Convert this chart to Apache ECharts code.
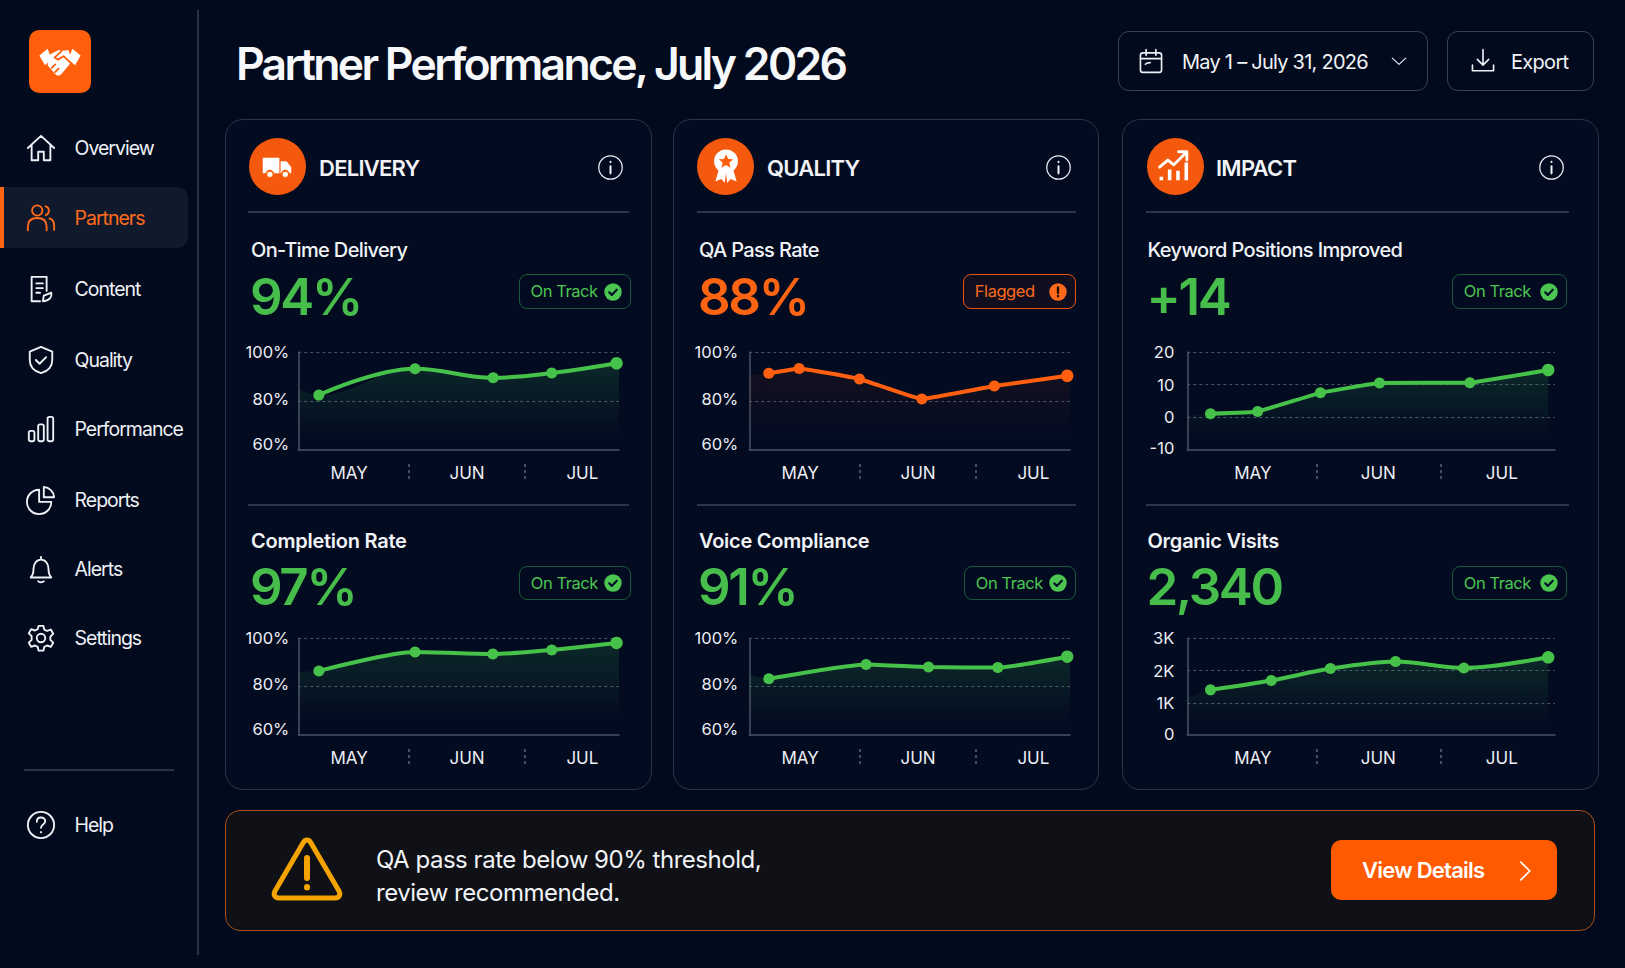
<!DOCTYPE html>
<html><head><meta charset="utf-8">
<script src="https://cdn.jsdelivr.net/npm/echarts@6/dist/echarts.min.js"></script>
<style>
*{box-sizing:border-box}
html,body{margin:0;padding:0;width:1625px;height:968px;overflow:hidden;background:#020a1e;font-family:Inter,"Noto Sans",sans-serif;color:#f1f3f7}
#chart{position:absolute;left:0;top:0;width:1625px;height:968px;z-index:2}
.a{position:absolute;white-space:nowrap}
.card{position:absolute;border:1.5px solid #2c3548;border-radius:18px;background:#030b21;top:119px;height:671px;z-index:1}
.rule{position:absolute;height:1.5px;background:#2c3548;z-index:1}
.nav{position:absolute;left:74.5px;font-size:19.5px;letter-spacing:-1px;line-height:24px;color:#eef1f5;z-index:3}
.ic{position:absolute;z-index:3;overflow:visible;fill:none;stroke:#eef1f5;stroke-width:2;stroke-linecap:round;stroke-linejoin:round}
.head{position:absolute;font-size:22px;font-weight:600;letter-spacing:-.75px;line-height:26px;top:155px;z-index:3}
.mt{position:absolute;font-size:20px;font-weight:500;letter-spacing:-.65px;line-height:24px;z-index:3}
.val{position:absolute;font-size:51px;font-weight:600;letter-spacing:-2.3px;line-height:60px;color:#47bd4c;z-index:3}
.badge{position:absolute;height:34.5px;border:1.5px solid #1b5a37;border-radius:8px;color:#4cc650;font-size:16.5px;letter-spacing:-.45px;line-height:33.5px;padding-left:10.5px;z-index:3}
.badge.f{border-color:#e8550f;color:#ff6a1a;background:rgba(255,90,0,.06)}
.badge svg{position:absolute;top:7.5px;right:8px;width:18px;height:18px}
.btn{position:absolute;top:31px;height:60px;border:1.5px solid #3a4356;border-radius:11px;z-index:3}
</style></head><body>
<div id="ui"></div>
<div id="chart"></div>
<script>
// ---------- chart data ----------
const monthLabels = ['MAY', 'JUN', 'JUL'];

const onTimeDays = [5.9, 33.5, 55.9, 72.7, 91.3];
const onTimeValues = [82.4, 93.2, 89.5, 91.4, 95.4];
const completionDays = [5.9, 33.5, 55.8, 72.7, 91.3];
const completionValues = [86.5, 94.3, 93.5, 95.2, 98.1];
const qaDays = [5.6, 14.3, 31.6, 49.5, 70.3, 91.2];
const qaValues = [91.3, 93.3, 89.0, 80.8, 86.1, 90.3];
const voiceDays = [5.6, 33.5, 51.4, 71.3, 91.2];
const voiceValues = [83.3, 89.2, 88.1, 87.9, 92.4];
const keywordDays = [5.8, 17.6, 33.3, 48.1, 70.7, 90.3];
const keywordValues = [1.1, 1.8, 7.5, 10.5, 10.6, 14.5];
const visitsDays = [5.8, 21.0, 35.8, 52.1, 69.2, 90.3];
const visitsValues = [1400, 1690, 2060, 2280, 2080, 2410];

const areaStartValues = [84.9, 86.2, 90.5, 84.6, 0.6, 1150];
const narrowLabelDays = [14.6, 48.4, 81.5];
const narrowSepDays = [31.7, 65.1];
const wideLabelDays = [16.4, 47.8, 78.7];
const wideSepDays = [32.4, 63.5];

// ---------- panels ----------
const GREEN = '#46c24a', ORANGE = '#ff5f0f';
const pct=v=>v+'%';
const panels = [
 {d:onTimeDays, v:onTimeValues, l:298.3, r:619, t:352, b:450, c:GREEN, smooth:.4, min:60, max:100, iv:20, lab:narrowLabelDays, sep:narrowSepDays, fmt:pct, end:92, m:9, pctAxis:true, lift:4},
 {d:completionDays, v:completionValues, l:298.3, r:619, t:638.3, b:735, c:GREEN, smooth:.25, min:60, max:100, iv:20, lab:narrowLabelDays, sep:narrowSepDays, fmt:pct, end:92, m:9, pctAxis:true, lift:6},
 {d:qaDays, v:qaValues, l:749.3, r:1070, t:352, b:450, c:ORANGE, smooth:.08, min:60, max:100, iv:20, lab:narrowLabelDays, sep:narrowSepDays, fmt:pct, end:92, m:11, pctAxis:true, lift:4},
 {d:voiceDays, v:voiceValues, l:749.3, r:1070, t:638.3, b:735, c:GREEN, smooth:.15, min:60, max:100, iv:20, lab:narrowLabelDays, sep:narrowSepDays, fmt:pct, end:92, m:11, pctAxis:true, lift:6},
 {d:keywordDays, v:keywordValues, l:1187.3, r:1555, t:352, b:450, c:GREEN, smooth:.08, min:-10, max:20, iv:10, lab:wideLabelDays, sep:wideSepDays, fmt:v=>''+v, end:null, m:13, lowLift:4},
 {d:visitsDays, v:visitsValues, l:1187.3, r:1555, t:638.3, b:735, c:GREEN, smooth:.3, min:0, max:3000, iv:1000, lab:wideLabelDays, sep:wideSepDays, fmt:v=>v?(v/1000)+'K':'0', end:null, m:13, lowLift:2}
];
const grid=[], xAxis=[], yAxis=[], series=[];
const labelFont={color:'#eceff4', fontFamily:'Inter', fontSize:16.5};
panels.forEach((p,i)=>{
  grid.push({left:p.l, width:p.r-p.l, top:p.t, height:p.b-p.t});
  const lab=p.lab;
  xAxis.push({type:'value', gridIndex:i, min:0, max:92, position:'bottom',
    axisLine:{show:true,onZero:false,lineStyle:{color:'#4a5366',width:1.5}}, axisTick:{show:false}, splitLine:{show:false},
    axisLabel:{customValues:lab, color:'#eceff4', fontFamily:'Inter', fontSize:17, margin:14,
      formatter:v=>monthLabels[lab.indexOf(v)]}});
  xAxis.push({type:'value', gridIndex:i, min:0, max:92, position:'bottom', offset:14,
    axisLine:{show:false,onZero:false}, splitLine:{show:false}, axisLabel:{show:false},
    axisTick:{show:true, customValues:p.sep, length:15, lineStyle:{color:'#5a6375',width:1.5,type:[3,3]}}});
  const rich=p.pctAxis
    ? {lo:{...labelFont,lineHeight:12},mid:{...labelFont,padding:[0,0,p.lift,0]}}
    : {lo:{...labelFont,padding:[0,0,p.lowLift,0]},mid:{...labelFont}};
  yAxis.push({type:'value', gridIndex:i, min:p.min, max:p.max, interval:p.iv,
    axisLine:{show:true,onZero:false,lineStyle:{color:'#4a5366',width:1.5}}, axisTick:{show:false},
    splitLine:{show:true,showMinLine:false,lineStyle:{color:'#4a5366',width:1.2,type:[3,3]}},
    axisLabel:{...labelFont, margin:p.m, rich, verticalAlignMinLabel:p.pctAxis?'bottom':'middle',
      formatter:v=>{const s=p.fmt(v); return v===p.min?`{lo|${s}}`:(p.pctAxis&&v===80?`{mid|${s}}`:s);}}});
  const pts=p.d.map((x,k)=>[x,p.v[k]]);
  const last=pts[pts.length-1];
  const area=[[0,areaStartValues[i]],...pts]; if(p.end) area.push([p.end,last[1]]);
  const rgb=p.c===GREEN?'60,190,80':'255,90,10', a=p.c===GREEN?.16:.07;
  series.push({name:'area'+i,type:'line',xAxisIndex:i*2,yAxisIndex:i,data:area,smooth:p.smooth,symbol:'none',silent:true,z:1,
    lineStyle:{width:0},areaStyle:{origin:'start',opacity:1,color:{type:'linear',x:0,y:0,x2:0,y2:1,colorStops:[{offset:0,color:`rgba(${rgb},${a})`},{offset:.85,color:`rgba(${rgb},0)`},{offset:1,color:`rgba(${rgb},0)`}]}}});
  series.push({name:'line'+i,type:'line',xAxisIndex:i*2,yAxisIndex:i,data:pts,smooth:p.smooth,symbol:'circle',symbolSize:(v,o)=>o.dataIndex===pts.length-1?12.5:11,z:3,
    lineStyle:{color:p.c,width:4},itemStyle:{color:p.c}});
});
const chart=echarts.init(document.getElementById('chart'),null,{renderer:'svg',width:1625,height:968});
chart.setOption({animation:false,backgroundColor:'transparent',grid,xAxis,yAxis,series});

// ---------- page furniture ----------
const check=c=>`<svg viewBox="0 0 18 18"><circle cx="9" cy="9" r="8.7" fill="${c}"/><path d="M5.2 9.3l2.6 2.6 5-5.2" fill="none" stroke="#04122a" stroke-width="2.2" stroke-linecap="round" stroke-linejoin="round"/></svg>`;
const alertDot=`<svg viewBox="0 0 18 18"><circle cx="9" cy="9" r="8.7" fill="#ff6a1a"/><path d="M9 4.5v5.5M9 13v.4" fill="none" stroke="#1a0d08" stroke-width="2.3" stroke-linecap="round"/></svg>`;
const ic=(cx,cy,w,body,extra='')=>`<svg class="ic" style="left:${cx-w/2}px;top:${cy-w/2}px;width:${w}px;height:${w}px;${extra}" viewBox="0 0 32 32">${body}</svg>`;
const navIcons={
 Overview:'<path d="M2 16L16 3l14 13M6 13v16h7v-9h6v9h7V13"/>',
 Partners:'<circle cx="12" cy="8" r="5.5"/><path d="M2 29v-4c0-6 4-9 10-9s10 3 10 9v4M21 3.5a5 5 0 0 1 0 9.5M25 16.5c3.500 1 5 4 5 8v4"/>',
 Content:'<path d="M22 18V3H6v26h9M11 10h7M11 15h7M11 20h4M18 29l1-6 8-3c1 4-2 9-9 9z"/>',
 Quality:'<path d="M16 2l12 5v9c0 7-5 12-12 14C9 28 4 23 4 16V7z"/><path d="M10.500 16l4 4 7-7"/>',
 Performance:'<rect x="3" y="18" width="6" height="11" rx="2"/><rect x="13" y="11" width="6" height="18" rx="2"/><rect x="23" y="3" width="6" height="26" rx="2"/>',
 Reports:'<path d="M14 5a13 13 0 1 0 13 13H14z"/><path d="M19 2a12 12 0 0 1 11 11H19z"/>',
 Alerts:'<path d="M5 25c2-2 3-4 3-9 0-5 3-10 8-10s8 5 8 10c0 5 1 7 3 9zM16 3v3M13 29c1 1.500 5 1.500 6 0"/>',
 Settings:'<circle cx="16" cy="16" r="4.500"/><path d="M13.500 3h5l1 4 3 1.500 4-1.500 2.500 4.500-3 3v3.500l3 3-2.500 4.500-4-1.500-3 1.500-1 4h-5l-1-4-3-1.500-4 1.500-2.500-4.500 3-3V14l-3-3 2.500-4.500 4 1.500 3-1.500z"/>',
 Help:'<circle cx="16" cy="16" r="14"/><path d="M11.500 12.500c0-3 2-4.500 4.500-4.500s4.500 1.700 4.500 4c0 3.500-4.500 3.500-4.500 7M16 23.500v.4"/>'
};
const navY={Overview:148,Partners:217.6,Content:289,Quality:359.6,Performance:429,Reports:499.5,Alerts:569,Settings:637.5,Help:825};
let h='';
h+=`<div class="a" style="left:197px;top:10px;width:1.5px;height:945px;background:#2a3346"></div>`;
h+=`<div class="a" style="left:0;top:187px;width:188px;height:61px;background:#101a2c;border-radius:0 11px 11px 0"></div><div class="a" style="left:0;top:187px;width:4px;height:61px;background:#ff6410"></div>`;
h+=`<div class="a" style="left:24px;top:769px;width:150px;height:1.5px;background:#2a3346"></div>`;
h+=`<div class="a" style="left:28.500px;top:30px;width:62px;height:63px;border-radius:10px;background:#ff5f0a"></div>`;
h+=ic(59.5,61,44,'<path d="M1 12l6-5 3 8-5 4zM31 12l-6-5-3 8 5 4z" fill="#fff" stroke="none"/><path d="M9 11l6-3 2 .8 5-.8 3 8-8 9.500c-1.500 1.500-3 1.500-4.500 0L7 19z" fill="#fff" stroke="none"/><path d="M17 9l-5 4.500 2.500 1.500 4-2.500 6 5.500M12.500 24l2.500-2.500M10 21l2.500-2.500" stroke="#ff5f0a" stroke-width="1.3"/>');
Object.keys(navIcons).forEach(n=>{const on=n==='Partners';
  h+=ic(40.5,navY[n],30,navIcons[n],on?'stroke:#ff6a1a;':'');
  h+=`<div class="nav" style="top:${navY[n]-12}px;${on?'color:#ff6a1a;':''}">${n}</div>`;});
h+=`<div class="a" style="left:236px;top:36px;font-size:44.500px;font-weight:600;letter-spacing:-2.7px;line-height:56px;color:#f7f8fa;z-index:3">Partner Performance, July 2026</div>`;
h+=`<div class="btn" style="left:1117.500px;width:310px"></div><div class="btn" style="left:1446.500px;width:147.500px"></div>`;
h+=ic(1151,61,26,'<rect x="3" y="6" width="26" height="24" rx="3"/><path d="M3 13h26M10 2v7M22 2v7M9 20c2-2 4-2 6-2"/>');
h+=`<div class="a" style="left:1182px;top:50px;font-size:20px;line-height:24px;letter-spacing:-.75px;z-index:3">May 1 – July 31, 2026</div>`;
h+=ic(1399,61,18,'<path d="M4 11l12 11 12-11"/>');
h+=ic(1482.5,61,26,'<path d="M16 2v18M9 14l7 7 7-7M3 21v7h26v-7"/>');
h+=`<div class="a" style="left:1511px;top:50px;font-size:20px;line-height:24px;letter-spacing:-.7px;z-index:3">Export</div>`;

[[225,426.5],[673.3,425.7],[1122,477.3]].forEach(c=>h+=`<div class="card" style="left:${c[0]}px;width:${c[1]}px"></div>`);
[[248,381],[697.3,378.7],[1146,422.7]].forEach(c=>{h+=`<div class="rule" style="left:${c[0]}px;top:211px;width:${c[1]}px"></div><div class="rule" style="left:${c[0]}px;top:504px;width:${c[1]}px"></div>`;});

const heads=[
 {n:'DELIVERY',cx:277.4,tx:319,ix:610,g:'<path d="M4 9h14v13H4zM19 12h5l4 5v5h-9z" fill="#fff" stroke="none"/><circle cx="10" cy="23" r="3" fill="#fff" stroke="#ff5f0a" stroke-width="1.5"/><circle cx="23" cy="23" r="3" fill="#fff" stroke="#ff5f0a" stroke-width="1.5"/>'},
 {n:'QUALITY',cx:725.5,tx:767,ix:1058,g:'<path d="M10 19l-3 10 5-2 3 3 1-8 1 8 3-3 5 2-3-10z" fill="#fff" stroke="none"/><circle cx="16" cy="12" r="10" fill="#fff" stroke="none"/><path d="M16 6l1.800 4 4.200.4-3.200 2.800 1 4.200-3.800-2.200-3.800 2.200 1-4.200-3.200-2.800 4.200-.4z" fill="#ff5f0a" stroke="none"/>'},
 {n:'IMPACT',cx:1175,tx:1216,ix:1551,g:'<path d="M3 17l7-6 5 4 10-10M19 4h7v7" stroke="#fff" stroke-width="2.400"/><path d="M3 28h3v-3H3zM10 28h3v-9h-3zM17 28h3v-8h-3zM24 28h3V13h-3z" fill="#fff" stroke="none"/>'}];
heads.forEach(c=>{
 h+=`<div class="a" style="left:${c.cx-28.5}px;top:137.500px;width:57px;height:57px;border-radius:50%;background:#f4590e;z-index:3"></div>`;
 h+=ic(c.cx,166,38,c.g);
 h+=`<div class="head" style="left:${c.tx}px">${c.n}</div>`;
 h+=ic(c.ix,167,25,'<circle cx="16" cy="16" r="15"/><path d="M16 14.500v9M16 8.500v.4" stroke-width="2.600"/>','stroke-width:1.600;');
});
const metrics=[
 {t:'On-Time Delivery',v:'94%',x:251,row:0,bl:519,bw:111.5},
 {t:'Completion Rate',v:'97%',x:251,row:1,bl:519.3,bw:111.5},
 {t:'QA Pass Rate',v:'88%',x:699,row:0,bl:963.3,bw:113,flag:1},
 {t:'Voice Compliance',v:'91%',x:699,row:1,bl:964.3,bw:112},
 {t:'Keyword Positions Improved',v:'+14',x:1147.5,row:0,bl:1452.3,bw:114.5},
 {t:'Organic Visits',v:'2,340',x:1147.5,row:1,bl:1452.3,bw:114.5}];
metrics.forEach(m=>{
 const ty=m.row?529:238, vy=m.row?556.5:267, by=m.row?565.5:274;
 h+=`<div class="mt" style="left:${m.x}px;top:${ty}px;${m.row?'font-weight:600;letter-spacing:-.25px;':''}">${m.t}</div>`;
 h+=`<div class="val" style="left:${m.x-1}px;top:${vy}px;${m.flag?'color:#ff6412;':''}">${m.v}</div>`;
 h+=`<div class="badge${m.flag?' f':''}" style="left:${m.bl}px;top:${by}px;width:${m.bw}px">${m.flag?'Flagged':'On Track'}${m.flag?alertDot:check('#4cc650')}</div>`;
});
h+=`<div class="a" style="left:224.500px;top:810px;width:1370px;height:121px;background:#0f1116;border:1.5px solid #a8501c;border-radius:15px;z-index:1"></div>`;
h+=`<svg class="ic" style="left:271px;top:836px;width:72px;height:66px;stroke:#f5a300;stroke-width:5" viewBox="0 0 72 66"><path d="M36 4c2 0 3 1 4 3l28 48c2 4 0 7-4 7H8c-4 0-6-3-4-7L32 7c1-2 2-3 4-3z"/><path d="M36 22v20M36 51v.5" stroke-width="6"/></svg>`;
h+=`<div class="a" style="left:376px;top:842.500px;font-size:24px;line-height:33.500px;letter-spacing:-.47px;white-space:pre;z-index:3">QA pass rate below 90% threshold,\nreview recommended.</div>`;
h+=`<div class="a" style="left:1331px;top:840px;width:226px;height:60px;border-radius:10px;background:#ff5a00;z-index:3"></div>`;
h+=`<div class="a" style="left:1362px;top:857px;font-size:22px;font-weight:600;letter-spacing:-.75px;line-height:27px;color:#fff;z-index:4">View Details</div>`;
h+=ic(1525,871,22,'<path d="M10 3l13 13-13 13"/>','z-index:4;stroke:#fff;stroke-width:2.500;');
document.getElementById('ui').innerHTML=h;
</script></body></html>
